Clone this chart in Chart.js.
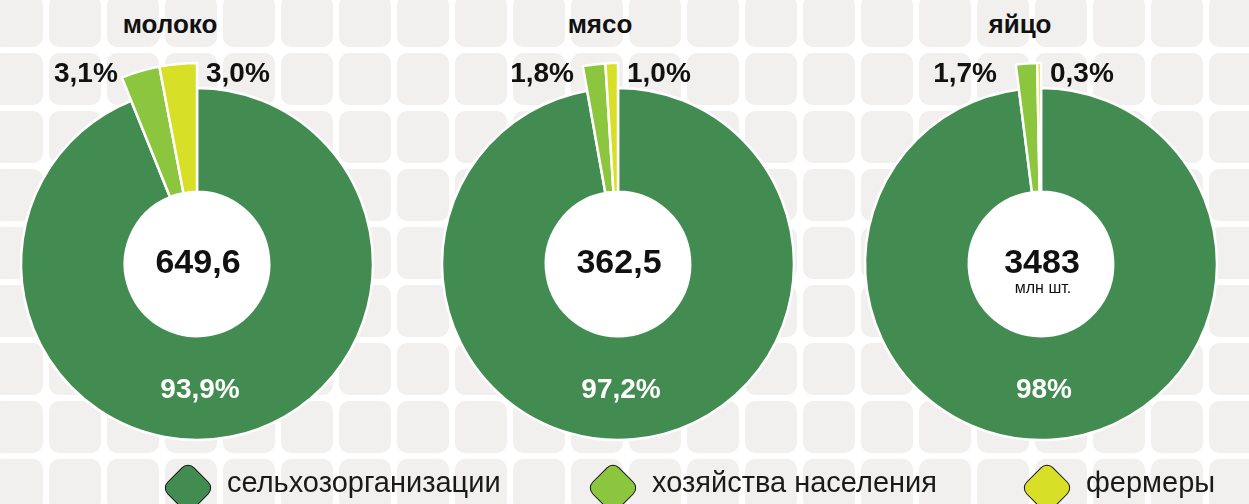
<!DOCTYPE html>
<html>
<head>
<meta charset="utf-8">
<script src="https://cdn.jsdelivr.net/npm/chart.js@4.4.0/dist/chart.umd.min.js"></script>
<style>
  html, body { margin: 0; padding: 0; }
  body {
    width: 1249px; height: 504px; overflow: hidden; position: relative;
    font-family: "Liberation Sans", Arial, sans-serif;
    background-color: #fff;
    background-image: url("data:image/svg+xml;utf8,<svg xmlns='http://www.w3.org/2000/svg' width='58' height='58'><rect x='3' y='3' width='52' height='52' rx='10' fill='%23f1f0ee'/></svg>");
    background-size: 58px 58px;
    background-position: -12px -8px;
  }
  canvas { position: absolute; top: 44px; }
  .title {
    position: absolute; top: 9px; width: 200px; margin-left: -100px;
    text-align: center; font-weight: bold; font-size: 26px; color: #111;
  }
  .item { position: absolute; top: 461px; height: 48px; display: flex; align-items: center; }
  .icon {
    width: 36px; height: 36px; margin: 6px 6px 0 6px; transform: rotate(45deg);
    border: 1.5px solid #111; border-radius: 9px;
  }
  .item span { font-size: 29px; color: #1a1a1a; margin-left: 14px; margin-top: -5px; }
</style>
</head>
<body>
<canvas id="c0" width="440" height="440" style="left:-23px"></canvas>
<canvas id="c1" width="440" height="440" style="left:398px"></canvas>
<canvas id="c2" width="440" height="440" style="left:821px"></canvas>
<div class="title" style="left:170px">молоко</div>
<div class="title" style="left:600px">мясо</div>
<div class="title" style="left:1020px">яйцо</div>
<div id="legend"></div>
<script>
// данные
const categories = ['сельхозорганизации', 'хозяйства населения', 'фермеры'];
const milk = [93.9, 3.1, 3.0];
const meat = [97.2, 1.8, 1.0];
const eggs = [98, 1.7, 0.3];
const milkLabels = ['93,9%', '3,1%', '3,0%'];
const meatLabels = ['97,2%', '1,8%', '1,0%'];
const eggsLabels = ['98%', '1,7%', '0,3%'];
const totals = ['649,6', '362,5', '3483'];
const units = ['', '', 'млн шт.'];
const colors = ['#438c51', '#8cc63f', '#d7df26'];

// small slices stick out of the ring
const ringPlugin = {
  id: 'ring',
  afterDatasetUpdate(chart, args) {
    args.meta.data.forEach((arc, i) => {
      if (i > 0) arc.outerRadius += 25;
    });
  },
  beforeDatasetsDraw(chart) {
    const arc = chart.getDatasetMeta(0).data[0];
    const ctx = chart.ctx;
    ctx.save();
    ctx.fillStyle = '#fff';
    ctx.beginPath();
    ctx.arc(arc.x, arc.y, arc.innerRadius, 0, Math.PI * 2);
    ctx.fill();
    ctx.restore();
  },
  afterDatasetsDraw(chart, args, opts) {
    const arcs = chart.getDatasetMeta(0).data;
    const { x, y, innerRadius, outerRadius } = arcs[0];
    const ctx = chart.ctx;
    ctx.save();
    ctx.textBaseline = 'middle';
    ctx.textAlign = 'center';
    // main share
    ctx.fillStyle = '#fff';
    ctx.font = 'bold 28px "Liberation Sans", Arial, sans-serif';
    ctx.fillText(opts.labels[0], x + 3, y + (innerRadius + outerRadius) / 2 + 2);
    // total in the hole
    ctx.fillStyle = '#111';
    ctx.font = 'bold 34px "Liberation Sans", Arial, sans-serif';
    ctx.fillText(opts.total, x + 1, y);
    if (opts.unit) {
      ctx.font = '16px "Liberation Sans", Arial, sans-serif';
      ctx.fillText(opts.unit, x + 2, y + 25);
    }
    // small shares
    const top = y - arcs[2].outerRadius + 11;
    ctx.font = 'bold 28px "Liberation Sans", Arial, sans-serif';
    const a = arcs[1].startAngle;
    const px = x + Math.cos(a) * arcs[1].outerRadius;
    ctx.textAlign = 'right';
    ctx.fillText(opts.labels[1], Math.min(px, x - 40) - 4, top);
    ctx.textAlign = 'left';
    ctx.fillText(opts.labels[2], x + 9, top);
    ctx.restore();
  }
};

function makeChart(id, values, labels, total, unit) {
  return new Chart(document.getElementById(id), {
    type: 'doughnut',
    data: {
      labels: categories,
      datasets: [{
        data: values,
        backgroundColor: colors,
        borderColor: '#fff',
        borderWidth: 2.5
      }]
    },
    options: {
      responsive: false,
      animation: false,
      events: [],
      radius: 176,
      cutout: '41%',
      layout: { padding: 0 },
      plugins: {
        legend: { display: false },
        tooltip: { enabled: false },
        ring: { labels: labels, total: total, unit: unit }
      }
    },
    plugins: [ringPlugin]
  });
}

makeChart('c0', milk, milkLabels, totals[0], units[0]);
makeChart('c1', meat, meatLabels, totals[1], units[1]);
makeChart('c2', eggs, eggsLabels, totals[2], units[2]);

// легенда
const legendX = [163, 588, 1022];
const legend = document.getElementById('legend');
categories.forEach((name, i) => {
  const item = document.createElement('div');
  item.className = 'item';
  item.style.left = legendX[i] + 'px';
  item.innerHTML = '<div class="icon" style="background:' + colors[i] + '"></div><span>' + name + '</span>';
  legend.appendChild(item);
});
</script>
</body>
</html>
